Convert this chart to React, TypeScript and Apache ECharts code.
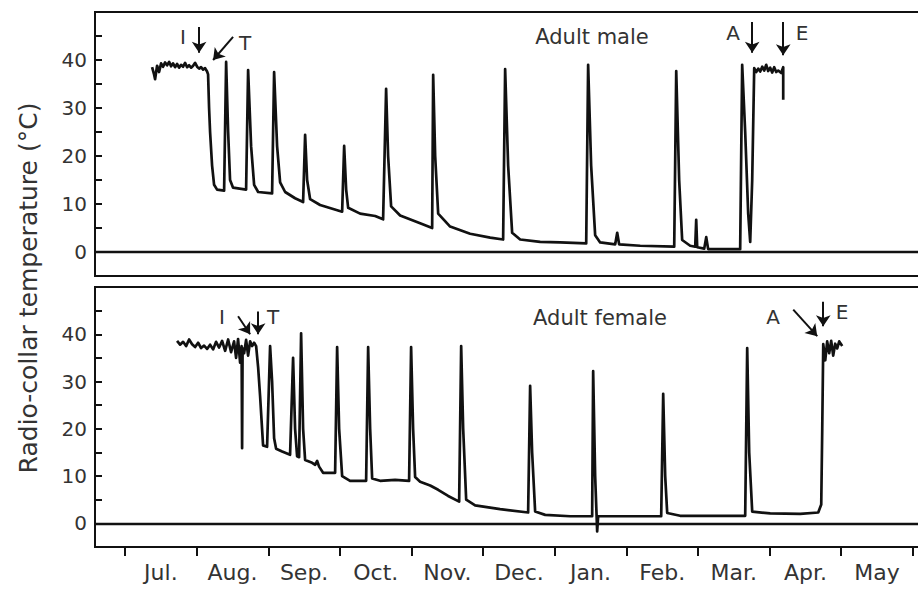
import React, { useEffect, useRef } from "react";
import * as echarts from "echarts";

// x values: months since 1 July (0 = Jul 1, 1 = Aug 1, ...); y values: °C
const monthLabels = ["Jul.", "Aug.", "Sep.", "Oct.", "Nov.", "Dec.", "Jan.", "Feb.", "Mar.", "Apr.", "May"];
const monthStarts = [0, 1, 2, 3, 4, 5, 6, 7, 8, 9, 10, 11];
const monthMids = [0.5, 1.5, 2.5, 3.5, 4.5, 5.5, 6.5, 7.5, 8.5, 9.5, 10.5];
const yTickLabels = [0, 10, 20, 30, 40];

const maleTrace: [number, number][] = [
  [0.377, 38.5], [0.405, 37.0], [0.419, 36.0], [0.447, 38.8], [0.475, 37.5], [0.503, 39.3],
  [0.531, 38.6], [0.559, 39.5], [0.587, 38.9], [0.615, 39.6], [0.642, 38.7], [0.67, 39.3],
  [0.698, 38.5], [0.726, 39.2], [0.754, 38.4], [0.782, 39.0], [0.81, 38.6], [0.838, 39.4],
  [0.866, 38.5], [0.894, 38.9], [0.922, 38.4], [0.95, 38.8], [0.978, 39.4], [1.006, 38.6],
  [1.034, 38.2], [1.061, 38.5], [1.089, 38.0], [1.117, 38.3], [1.145, 37.6],
  [1.159, 37.0], [1.173, 30.0], [1.187, 25.0], [1.215, 18.0], [1.243, 14.0], [1.285, 13.0], [1.383, 12.8],
  [1.411, 39.6], [1.439, 25.0], [1.466, 15.0], [1.508, 13.4], [1.69, 13.0],
  [1.718, 37.9], [1.76, 22.0], [1.802, 14.0], [1.858, 12.5], [2.053, 12.2],
  [2.081, 37.5], [2.123, 22.0], [2.165, 14.5], [2.235, 12.5], [2.374, 11.2], [2.486, 10.4],
  [2.514, 24.4], [2.542, 15.0], [2.584, 11.0], [2.723, 9.8], [3.031, 8.4],
  [3.059, 22.1], [3.087, 13.0], [3.115, 9.2], [3.282, 8.0], [3.492, 7.5], [3.603, 6.8],
  [3.645, 34.0], [3.673, 20.0], [3.715, 9.5], [3.841, 7.6], [4.12, 6.0], [4.288, 5.0],
  [4.302, 36.9], [4.33, 20.0], [4.372, 8.0], [4.539, 5.3], [4.818, 3.8], [5.098, 3.0], [5.279, 2.6],
  [5.307, 38.1], [5.349, 18.0], [5.405, 4.0], [5.517, 2.6], [5.796, 2.1], [6.075, 2.0], [6.439, 1.8],
  [6.466, 39.0], [6.508, 18.0], [6.564, 3.5], [6.634, 2.0], [6.844, 1.6], [6.872, 4.0], [6.899, 1.6],
  [7.193, 1.3], [7.668, 1.1],
  [7.696, 37.7], [7.737, 15.0], [7.779, 2.5], [7.891, 1.3], [7.961, 1.1], [7.975, 6.7], [7.989, 1.0],
  [8.087, 0.7], [8.115, 3.1], [8.142, 0.6], [8.589, 0.6],
  [8.617, 39.0], [8.659, 25.0], [8.701, 8.0], [8.729, 2.1], [8.757, 15.0], [8.785, 38.3],
  [8.813, 37.5], [8.841, 38.2], [8.869, 37.6], [8.897, 38.6], [8.925, 37.8], [8.953, 39.0],
  [8.98, 37.7], [9.008, 38.4], [9.036, 37.4], [9.064, 38.5], [9.092, 37.5], [9.12, 37.8],
  [9.162, 37.3], [9.19, 38.5], [9.19, 31.7],
];

const femaleTrace: [number, number][] = [
  [0.726, 38.6], [0.768, 37.8], [0.81, 38.4], [0.852, 37.5], [0.894, 38.9], [0.936, 37.9],
  [0.978, 37.3], [1.02, 38.2], [1.061, 37.1], [1.103, 37.6], [1.145, 36.9], [1.187, 37.8],
  [1.229, 36.8], [1.271, 38.4], [1.313, 37.2], [1.355, 38.6], [1.397, 36.5], [1.439, 38.9],
  [1.48, 36.2], [1.522, 38.5], [1.55, 35.0], [1.578, 39.0], [1.606, 34.0], [1.627, 37.5],
  [1.634, 15.9], [1.641, 37.0], [1.662, 36.0], [1.69, 38.8], [1.718, 35.5], [1.746, 38.5],
  [1.774, 37.5], [1.802, 38.2], [1.83, 37.5],
  [1.858, 33.0], [1.885, 27.0], [1.913, 20.0], [1.927, 16.5], [1.983, 16.2],
  [2.025, 37.5], [2.053, 30.0], [2.081, 18.0], [2.109, 15.8], [2.193, 15.2], [2.304, 14.5],
  [2.346, 35.0], [2.374, 20.0], [2.402, 14.2], [2.43, 14.0],
  [2.458, 40.2], [2.486, 20.0], [2.514, 13.4], [2.612, 12.8], [2.654, 12.4], [2.682, 13.2],
  [2.709, 12.0], [2.765, 10.7], [2.933, 10.7],
  [2.961, 37.3], [2.989, 20.0], [3.031, 10.0], [3.142, 9.0], [3.366, 9.0],
  [3.394, 37.3], [3.422, 20.0], [3.45, 9.5], [3.561, 9.0], [3.771, 9.2], [3.966, 9.0],
  [3.994, 37.3], [4.022, 20.0], [4.05, 9.8], [4.12, 8.8], [4.26, 8.0], [4.372, 7.1], [4.511, 5.8], [4.665, 4.6],
  [4.693, 37.5], [4.721, 20.0], [4.763, 5.0], [4.888, 3.8], [5.237, 3.0], [5.628, 2.3],
  [5.656, 29.1], [5.684, 15.0], [5.726, 2.5], [5.866, 1.8], [6.215, 1.5], [6.522, 1.5],
  [6.536, 32.2], [6.564, 10.0], [6.592, -1.7], [6.606, 1.5], [6.913, 1.5], [7.486, 1.5],
  [7.514, 27.4], [7.542, 10.0], [7.57, 2.2], [7.751, 1.6], [8.659, 1.6],
  [8.687, 37.1], [8.715, 15.0], [8.757, 2.5], [9.008, 2.1], [9.427, 2.0], [9.679, 2.3], [9.721, 4.0],
  [9.735, 20.0], [9.749, 37.9], [9.777, 34.5], [9.804, 38.5], [9.832, 36.0], [9.86, 38.6],
  [9.888, 35.5], [9.916, 38.0], [9.944, 37.0], [9.972, 38.5], [10.014, 37.5],
];

// annotation arrows: [[x1, y1], [x2, y2]] in data units (arrow head at second point)
const maleArrows: [number, number][][] = [
  [[1.034, 46.9], [1.034, 41.5]],
  [[1.508, 44.8], [1.229, 40.0]],
  [[8.757, 47.9], [8.757, 41.5]],
  [[9.19, 47.9], [9.19, 41.0]],
];
const femaleArrows: [number, number][][] = [
  [[1.578, 43.8], [1.746, 40.0]],
  [[1.858, 44.8], [1.858, 40.0]],
  [[9.33, 45.2], [9.665, 39.6]],
  [[9.749, 46.9], [9.749, 41.7]],
];

const FONT = '"DejaVu Sans", "Liberation Sans", sans-serif';
const INK = "#111";
const TEXT = "#333";

export default function App() {
  const ref = useRef<HTMLDivElement>(null);

  useEffect(() => {
    if (!ref.current) return;
    const chart = echarts.init(ref.current, undefined, { renderer: "svg" });

    const xAxisBase = {
      type: "value" as const,
      min: -0.42,
      max: 11.1,
      splitLine: { show: false },
      axisLine: { show: false, onZero: false },
    };
    const yAxisBase = {
      type: "value" as const,
      min: -5,
      max: 50,
      interval: 5,
      splitLine: { show: false },
      axisLine: { show: false, onZero: false },
      axisTick: { show: true, inside: true, length: 7, lineStyle: { color: INK, width: 2 } },
      axisLabel: {
        formatter: (v: number) => (yTickLabels.includes(v) ? String(v) : ""),
        fontSize: 20,
        color: TEXT,
        fontFamily: FONT,
        margin: 8,
      },
    };

    const zeroLine = {
      silent: true,
      symbol: "none",
      label: { show: false },
      lineStyle: { color: INK, width: 2.4, type: "solid" as const },
      data: [{ yAxis: 0 }],
    };
    const arrowMark = (arrows: [number, number][][]) => ({
      silent: true,
      symbol: ["none", "arrow"],
      symbolSize: 11,
      itemStyle: { color: INK },
      label: { show: false },
      lineStyle: { color: INK, width: 2, type: "solid" as const },
      data: arrows.map((a) => [{ coord: a[0] }, { coord: a[1] }]),
    });

    const textEl = (text: string, x: number, y: number, size: number) => ({
      type: "text",
      x,
      y,
      silent: true,
      style: {
        text,
        fill: TEXT,
        fontSize: size,
        fontFamily: FONT,
        textAlign: "center",
        textVerticalAlign: "middle",
        align: "center",
        verticalAlign: "middle",
      },
    });

    chart.setOption({
      animation: false,
      backgroundColor: "#fff",
      grid: [
        { left: 95, top: 12, right: 0, height: 264, show: true, borderColor: INK, borderWidth: 2, backgroundColor: "transparent" },
        { left: 95, top: 287, right: 0, height: 260, show: true, borderColor: INK, borderWidth: 2, backgroundColor: "transparent" },
      ],
      xAxis: [
        { ...xAxisBase, gridIndex: 0, axisTick: { show: false }, axisLabel: { show: false } },
        {
          ...xAxisBase,
          gridIndex: 1,
          axisTick: {
            show: true,
            customValues: monthStarts,
            inside: false,
            length: 9,
            lineStyle: { color: INK, width: 2 },
          },
          axisLabel: {
            customValues: monthMids,
            formatter: (v: number) => monthLabels[Math.round(v - 0.5)] ?? "",
            fontSize: 22,
            color: TEXT,
            fontFamily: FONT,
            margin: 14,
          },
        },
      ],
      yAxis: [
        { ...yAxisBase, gridIndex: 0 },
        { ...yAxisBase, gridIndex: 1 },
      ],
      series: [
        {
          type: "line",
          name: "Adult male",
          xAxisIndex: 0,
          yAxisIndex: 0,
          data: maleTrace,
          showSymbol: false,
          lineStyle: { color: INK, width: 2.7, join: "round" },
          markLine: zeroLine,
        },
        {
          type: "line",
          name: "Adult female",
          xAxisIndex: 1,
          yAxisIndex: 1,
          data: femaleTrace,
          showSymbol: false,
          lineStyle: { color: INK, width: 2.7, join: "round" },
          markLine: zeroLine,
        },
        {
          type: "line",
          name: "male arrows",
          xAxisIndex: 0,
          yAxisIndex: 0,
          data: [],
          itemStyle: { color: INK },
          markLine: arrowMark(maleArrows),
        },
        {
          type: "line",
          name: "female arrows",
          xAxisIndex: 1,
          yAxisIndex: 1,
          data: [],
          itemStyle: { color: INK },
          markLine: arrowMark(femaleArrows),
        },
      ],
      graphic: [
        { ...textEl("Radio-collar temperature (°C)", 28, 288, 25), rotation: Math.PI / 2 },
        textEl("Adult male", 592, 37, 21),
        textEl("Adult female", 600, 318, 21),
        textEl("I", 183, 37, 20),
        textEl("T", 245, 43, 20),
        textEl("A", 733, 33, 20),
        textEl("E", 802, 33, 20),
        textEl("I", 222, 317, 20),
        textEl("T", 273, 317, 20),
        textEl("A", 773, 317, 20),
        textEl("E", 842, 312, 20),
        // hide the right edge of the panel frames (cut off in the original figure)
        { type: "rect", x: 918, y: 0, z: 100, silent: true, shape: { width: 4, height: 590 }, style: { fill: "#fff" } },
      ],
    });

    return () => chart.dispose();
  }, []);

  return (
    <div
      ref={ref}
      style={{ position: "absolute", left: 0, top: 0, width: 920, height: 590, background: "#fff" }}
    />
  );
}
